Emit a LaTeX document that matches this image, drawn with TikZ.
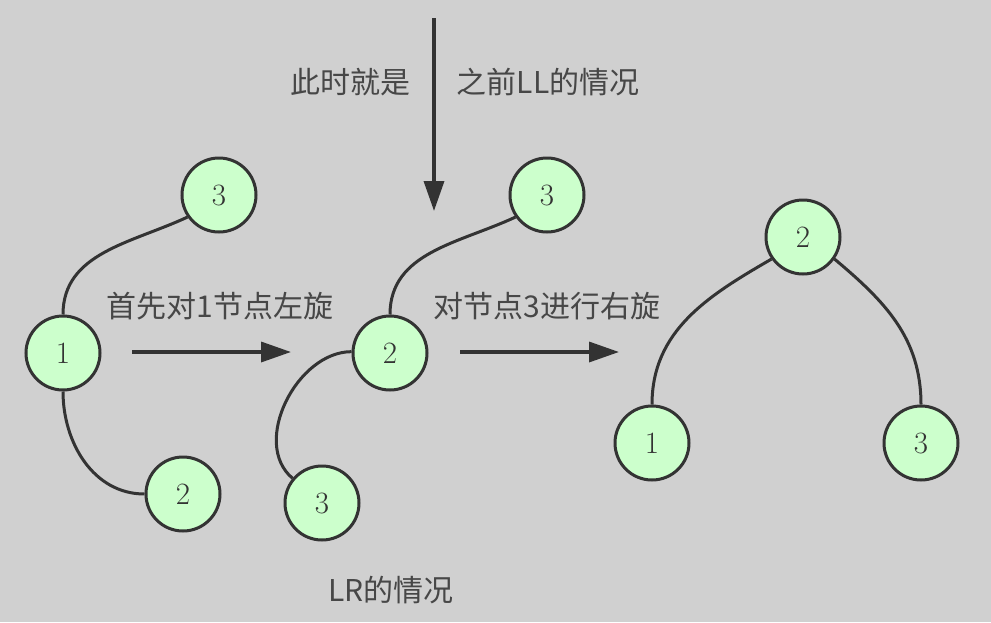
\documentclass[tikz,border=0pt]{standalone}
\usepackage{fontspec}
\newfontfamily\cjk{Noto Sans CJK SC}
\usetikzlibrary{arrows.meta}
\definecolor{bg}{HTML}{D0D0D0}
\definecolor{nodefill}{HTML}{CCFFCC}
\definecolor{ink}{HTML}{333333}
\begin{document}
\begin{tikzpicture}[x=1pt,y=-1pt,
  tnode/.style={circle,draw=ink,line width=3pt,fill=nodefill,minimum size=74pt,inner sep=0pt,font=\fontsize{31}{31}\selectfont,text=ink},
  edge/.style={draw=ink,line width=3pt},
  bigarrow/.style={draw=ink,fill=ink,line width=3.5pt,-{Triangle[length=30pt,width=20pt]}},
  lbl/.style={font=\cjk\fontsize{30}{30}\selectfont,text=ink!90,inner sep=0pt}]
\fill[bg] (0,0) rectangle (991,622);
\useasboundingbox (0,0) rectangle (991,622);
% first tree
\node[tnode] (a3) at (219,195) {3};
\node[tnode] (a1) at (63,353) {1};
\node[tnode] (a2) at (183,494) {2};
\draw[edge] (a1.north) to[out=90,in=-155] (a3.-145);
\draw[edge] (a1.south) to[out=-90,in=180] (a2.west);
% second tree
\node[tnode] (b3) at (547,195) {3};
\node[tnode] (b2) at (390,353) {2};
\node[tnode] (b3b) at (322,503) {3};
\draw[edge] (b2.north) to[out=90,in=-155] (b3.-145);
\draw[edge] (b2.178) to[out=180,in=140] (b3b.140);
% third tree
\node[tnode] (c2) at (803,237) {2};
\node[tnode] (c1) at (652,443) {1};
\node[tnode] (c3) at (921,443) {3};
\draw[edge] (c2.-145) to[out=-150,in=90] (c1.north);
\draw[edge] (c2.-35) to[out=-40,in=90] (c3.north);
% arrows
\coordinate (h1s) at (132,352); \coordinate (h1e) at (291,352);
\coordinate (h2s) at (460,352); \coordinate (h2e) at (619,352);
\coordinate (vs) at (434,18); \coordinate (ve) at (434,211);
\draw[bigarrow] (h1s) -- (h1e);
\draw[bigarrow] (h2s) -- (h2e);
\draw[bigarrow] (vs) -- (ve);
% labels
\node[lbl] (t1) at (350,82) {此时就是};
\node[lbl] (t2) at (548,82) {之前LL的情况};
\node[lbl] (t3) at (220,306) {首先对1节点左旋};
\node[lbl] (t4) at (547,306) {对节点3进行右旋};
\node[lbl] (t5) at (391,590) {LR的情况};
\end{tikzpicture}
\end{document}
